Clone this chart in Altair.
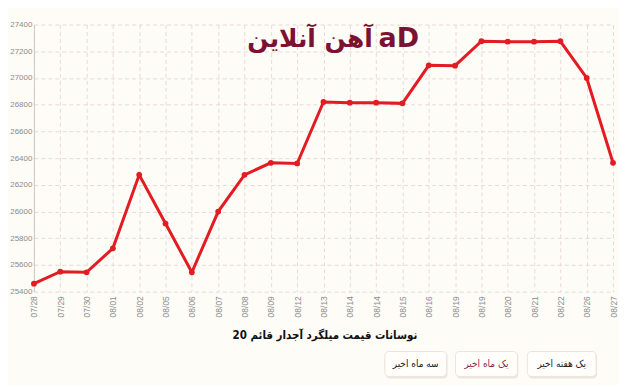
import altair as alt
import pandas as pd

labels = ["07/28", "07/29", "07/30", "08/01", "08/02", "08/05", "08/06", "08/07",
          "08/08", "08/09", "08/12", "08/13", "08/14", "08/14", "08/15", "08/16",
          "08/19", "08/19", "08/20", "08/21", "08/22", "08/26", "08/27"]
prices = [25460, 25550, 25545, 25725, 26275, 25910, 25545, 26000,
          26275, 26365, 26360, 26820, 26815, 26815, 26810, 27095,
          27092, 27275, 27272, 27272, 27275, 27000, 26365]
y_ticks = [25400, 25600, 25800, 26000, 26200, 26400, 26600, 26800, 27000, 27200, 27400]

title_text = "نوسانات قیمت میلگرد آجدار قائم 20"
logo_text = "آهن آنلاین"
buttons = ["سه ماه اخیر", "یک ماه اخیر", "یک هفته اخیر"]

df = pd.DataFrame({"i": list(range(len(labels))), "price": prices})

label_js = "[" + ",".join(f"'{l}'" for l in labels) + "]"

W, H = 581, 268
grid_color = "#ead9d6"

x_enc = alt.X("i:O",
              scale=alt.Scale(type="point", padding=0),
              axis=alt.Axis(labelExpr=f"{label_js}[datum.value]",
                            labelAngle=270, labelFontSize=8.5, labelColor="#8c8c8c",
                            labelPadding=4, labelBaseline="middle", labelAlign="right",
                            grid=True, gridColor=grid_color, gridDash=[4, 3],
                            domain=False, ticks=False, title=None,
                            labelFont="Liberation Sans", labelOverlap=False))
y_enc = alt.Y("price:Q",
              scale=alt.Scale(domain=[25400, 27400], nice=False, zero=False),
              axis=alt.Axis(values=y_ticks, format="d", labelFontSize=8, labelColor="#8c8c8c",
                            grid=True, gridColor=grid_color, gridDash=[4, 3],
                            domain=True, domainColor="#cfc6c2", ticks=False,
                            labelPadding=2, title=None, labelFont="Liberation Sans",
                            labelOverlap=False))

line = alt.Chart(df).mark_line(
    color="#e31b23", strokeWidth=3,
    point=alt.OverlayMarkDef(filled=True, color="#e31b23", size=34, opacity=1)
).encode(x=x_enc, y=y_enc)

logo = alt.Chart(pd.DataFrame({"t": [logo_text]})).mark_text(
    color="#7b1233", fontSize=25, fontWeight="bold", font="DejaVu Sans",
    align="center", baseline="middle"
).encode(text="t:N", x=alt.value(277), y=alt.value(15))

logo_icon = alt.Chart(pd.DataFrame({"t": ["aD"]})).mark_text(
    color="#7b1233", fontSize=27, fontWeight="bold", font="DejaVu Sans",
    align="center", baseline="middle"
).encode(text="t:N", x=alt.value(366), y=alt.value(15))

title = alt.Chart(pd.DataFrame({"t": [title_text]})).mark_text(
    color="#111111", fontSize=11.5, fontWeight="bold", font="DejaVu Sans Condensed",
    align="center", baseline="middle"
).encode(text="t:N", x=alt.value(292), y=alt.value(312))

layers = [line, logo, logo_icon, title]

btn_boxes = [(352, 414), (423, 485), (495, 564)]
btn_colors = ["#222222", "#8a1f4a", "#222222"]
for (x0, x1), txt, col in zip(btn_boxes, buttons, btn_colors):
    shadow = alt.Chart(pd.DataFrame({"t": [txt]})).mark_rect(
        fill="#ece6df", cornerRadius=4
    ).encode(x=alt.value(x0 + 1), x2=alt.value(x1 + 1), y=alt.value(329), y2=alt.value(355))
    box = alt.Chart(pd.DataFrame({"t": [txt]})).mark_rect(
        fill="#fffefb", stroke="#ebe4dc", strokeWidth=1, cornerRadius=4
    ).encode(x=alt.value(x0), x2=alt.value(x1), y=alt.value(328), y2=alt.value(353))
    lab = alt.Chart(pd.DataFrame({"t": [txt]})).mark_text(
        color=col, fontSize=10, font="DejaVu Sans Condensed", align="center", baseline="middle"
    ).encode(text="t:N", x=alt.value((x0 + x1) / 2), y=alt.value(340.5))
    layers += [shadow, box, lab]

chart = alt.layer(*layers).properties(
    width=W, height=H,
    background="#fdfcf7",
    autosize=alt.AutoSizeParams(type="none"),
    padding={"left": 26, "top": 16, "right": 6, "bottom": 93},
).configure_view(stroke=None)

chart.save("out.html", embed_options={"renderer": "svg", "actions": False})
